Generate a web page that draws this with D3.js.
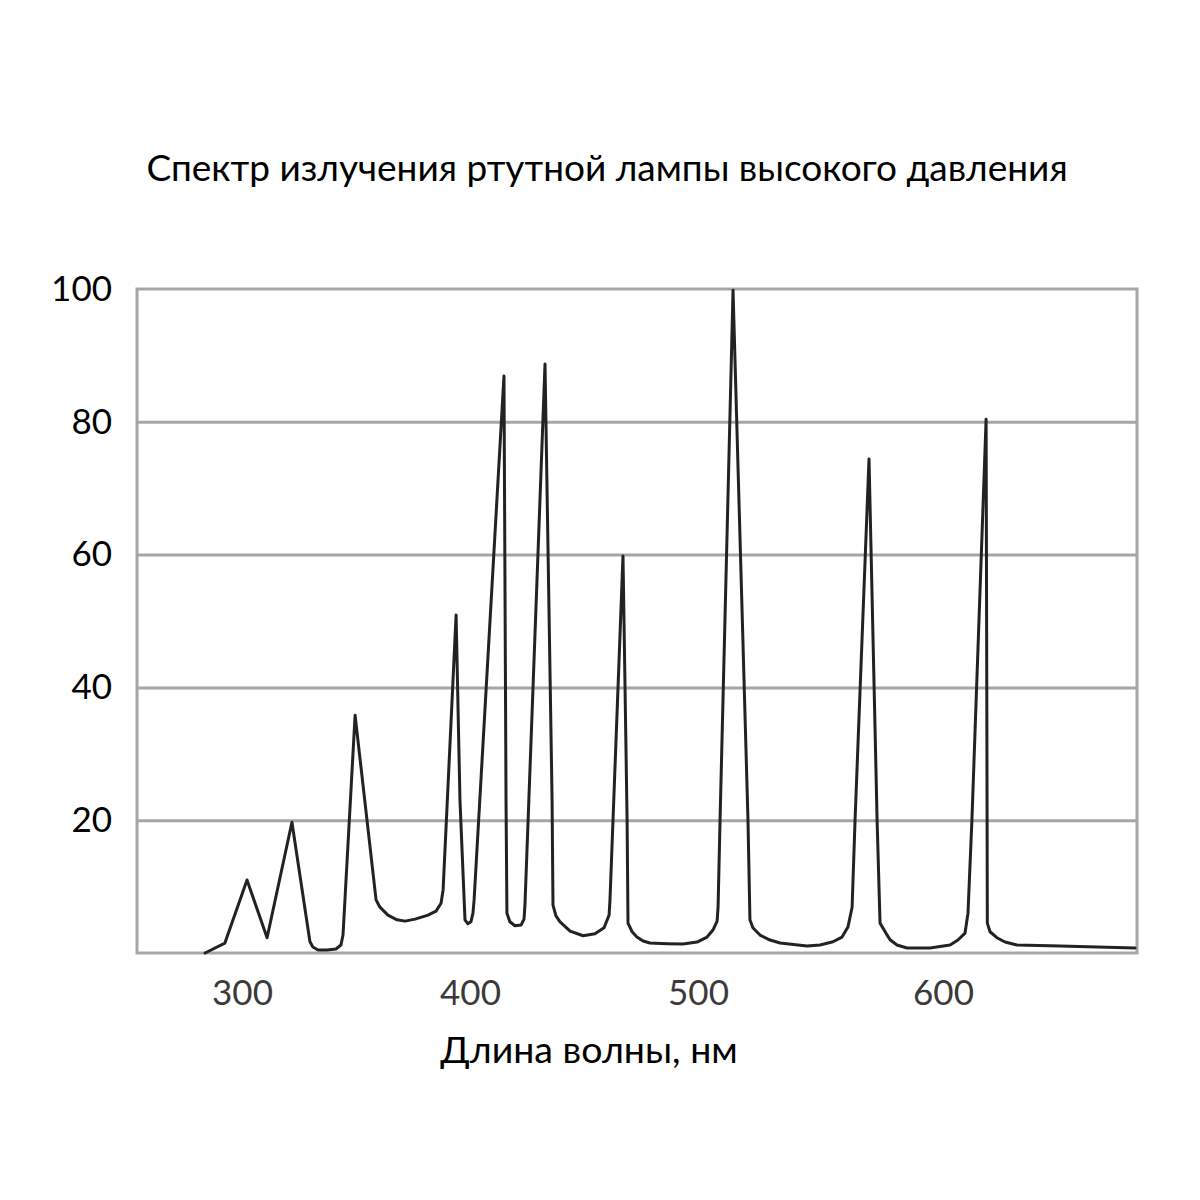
<!DOCTYPE html>
<html>
<head>
<meta charset="utf-8">
<script src="https://cdn.jsdelivr.net/npm/d3@7"></script>
<style>
  html, body { margin: 0; padding: 0; background: #ffffff; }
  svg { display: block; }
</style>
</head>
<body>
<svg id="chart" width="1200" height="1200"></svg>
<script>
// ---- data ----
const titleText = "Спектр излучения ртутной лампы высокого давления";
const xAxisTitle = "Длина волны, нм";
const xTickValues = [300, 400, 500, 600];
const yTickValues = [20, 40, 60, 80, 100];
const gridValues = [20, 40, 60, 80];

// wavelength (nm) and relative intensity (%)
const wavelength = [
  283.8, 292.5, 302.2, 311.0, 321.9, 329.8, 331.1, 333.3, 337.3, 341.2,
  343.4, 344.3, 349.6, 358.8, 360.5, 364.0, 368.0, 371.5, 375.9, 381.6,
  385.1, 387.3, 388.2, 393.9, 395.6, 397.8, 399.1, 400.4, 401.3, 401.8,
  414.9, 415.8, 416.2, 417.5, 419.7, 422.4, 423.7, 424.1, 432.9, 436.0,
  436.4, 437.7, 439.5, 443.9, 449.6, 454.8, 458.8, 461.0, 461.4, 467.1,
  468.9, 469.3, 471.1, 473.2, 475.9, 478.9, 486.4, 493.4, 499.6, 503.7,
  506.1, 507.8, 508.2, 509.0, 514.3, 520.4, 521.2, 522.4, 525.3, 529.4,
  533.5, 544.5, 549.8, 555.1, 558.8, 561.2, 562.9, 564.1, 569.8, 573.1,
  574.3, 576.7, 578.4, 581.2, 585.3, 594.7, 602.9, 606.1, 609.0, 610.2,
  611.8, 617.6, 618.0, 618.1, 619.2, 622.0, 625.3, 630.2, 647.8, 678.4
];
const intensity = [
  0.0, 1.5, 11.0, 2.3, 19.7, 1.7, 0.9, 0.45, 0.45, 0.6,
  1.2, 2.7, 35.8, 8.0, 6.9, 5.7, 5.0, 4.8, 5.1, 5.7,
  6.3, 7.5, 9.5, 50.9, 23.0, 5.0, 4.4, 4.7, 6.0, 8.0,
  86.9, 23.0, 6.0, 4.7, 4.1, 4.2, 5.1, 7.2, 88.7, 23.0,
  7.2, 5.6, 4.7, 3.3, 2.6, 2.9, 3.8, 5.7, 8.0, 59.8,
  20.0, 4.5, 3.2, 2.4, 1.8, 1.5, 1.4, 1.35, 1.65, 2.4,
  3.45, 4.8, 7.0, 20.0, 99.8, 20.0, 5.0, 3.8, 2.7, 1.95,
  1.5, 1.05, 1.2, 1.7, 2.4, 3.9, 6.9, 20.0, 74.4, 20.0,
  4.5, 3.0, 2.0, 1.2, 0.75, 0.75, 1.2, 1.95, 3.0, 6.0,
  20.0, 80.4, 20.0, 4.5, 3.2, 2.3, 1.65, 1.2, 1.05, 0.75
];

// ---- layout ----
const svg = d3.select("#chart");
const plotLeft = 137, plotRight = 1137, plotTop = 289, plotBottom = 953;
const FONT = "Lato, 'Open Sans', sans-serif";

// the printed axis is not evenly spaced; follow it with a polylinear scale
const x = d3.scaleLinear()
  .domain([253.95, 300, 400, 500, 600, 679.2])
  .range([plotLeft, 242, 470, 698, 943, plotRight]);
const y = d3.scaleLinear().domain([0, 100]).range([plotBottom, plotTop]);

const gridColor = "#a6a6a6";

// grid lines
svg.append("g")
  .attr("transform", `translate(${plotLeft},0)`)
  .call(d3.axisLeft(y).tickValues(gridValues).tickSize(-(plotRight - plotLeft)).tickFormat(""))
  .call(g => g.select(".domain").remove())
  .call(g => g.selectAll("line").attr("stroke", gridColor).attr("stroke-width", 3));

// frame
svg.append("rect")
  .attr("x", plotLeft).attr("y", plotTop)
  .attr("width", plotRight - plotLeft).attr("height", plotBottom - plotTop)
  .attr("fill", "none").attr("stroke", gridColor).attr("stroke-width", 3);

// y tick labels
svg.append("g")
  .attr("transform", `translate(${plotLeft},0)`)
  .call(d3.axisLeft(y).tickValues(yTickValues).tickSize(0).tickPadding(25))
  .call(g => g.select(".domain").remove())
  .call(g => g.selectAll("text")
    .attr("font-family", FONT).attr("font-size", 35).attr("fill", "#000"));

// x tick labels
svg.append("g")
  .attr("transform", `translate(0,${plotBottom})`)
  .call(d3.axisBottom(x).tickValues(xTickValues).tickSize(0).tickPadding(27))
  .call(g => g.select(".domain").remove())
  .call(g => g.selectAll("text")
    .attr("font-family", FONT).attr("font-size", 35).attr("fill", "#3a3a3a"));

// spectrum line
const pts = wavelength.map((w, i) => [w, intensity[i]]);
const line = d3.line().x(d => x(d[0])).y(d => y(d[1])).curve(d3.curveLinear);
svg.append("path")
  .datum(pts)
  .attr("d", line)
  .attr("fill", "none")
  .attr("stroke", "#222222")
  .attr("stroke-width", 3)
  .attr("stroke-linejoin", "round")
  .attr("stroke-linecap", "round");

// title
svg.append("text")
  .attr("x", 607).attr("y", 181)
  .attr("text-anchor", "middle")
  .attr("font-family", FONT).attr("font-size", 37)
  .attr("fill", "#000")
  .text(titleText);

// x axis title
svg.append("text")
  .attr("x", 589).attr("y", 1063)
  .attr("text-anchor", "middle")
  .attr("font-family", FONT).attr("font-size", 37.5)
  .attr("fill", "#000")
  .text(xAxisTitle);
</script>
</body>
</html>
